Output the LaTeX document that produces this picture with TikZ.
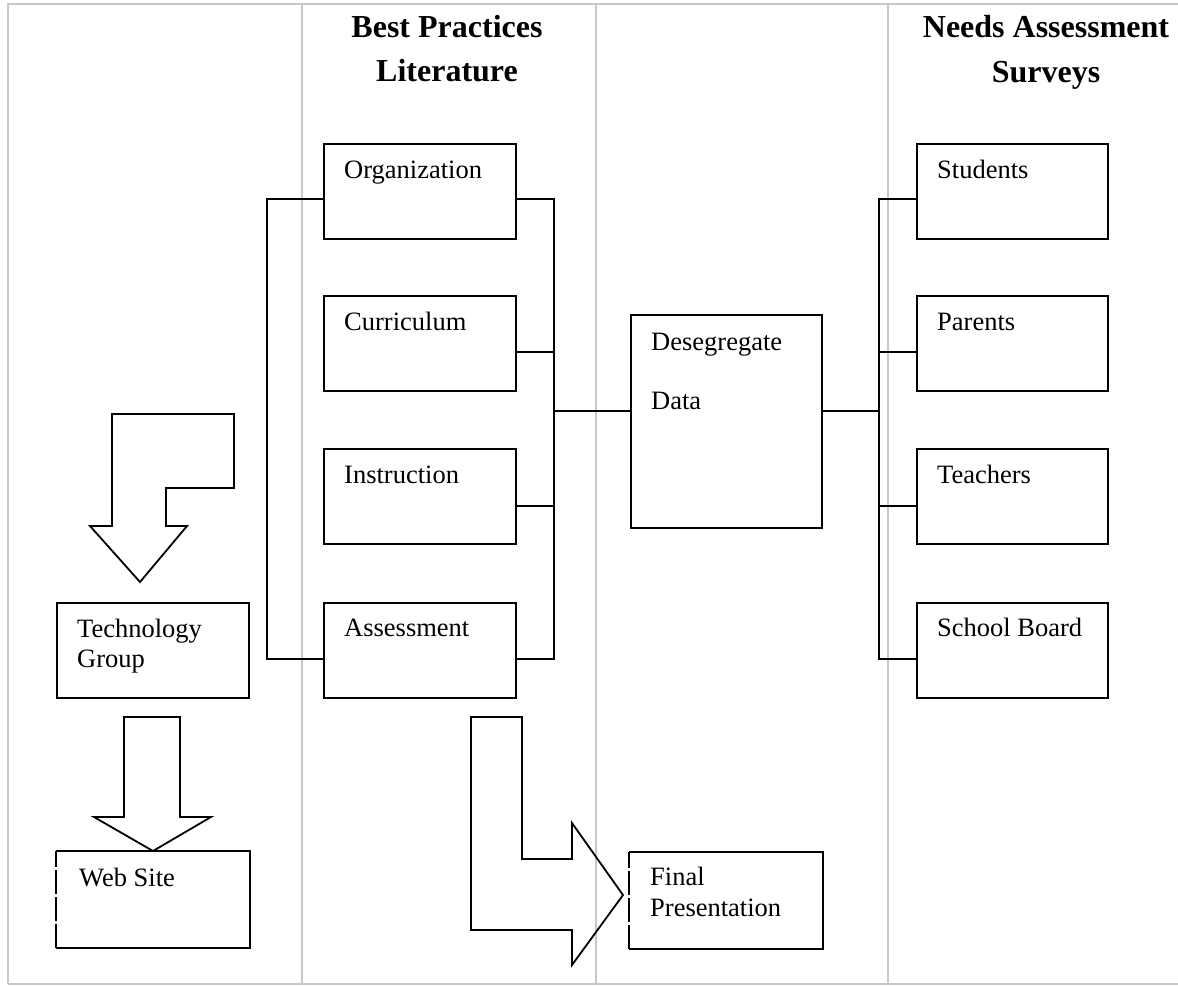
\documentclass[tikz,border=0pt]{standalone}
\usepackage{fontspec}
\setmainfont{Liberation Serif}
\usetikzlibrary{calc}
\definecolor{gridgray}{RGB}{200,200,200}
\begin{document}
\begin{tikzpicture}[x=1pt,y=-1pt,
  box/.style={draw=black,line width=1.8pt,inner sep=0pt,anchor=north west,minimum width=192pt,minimum height=95pt},
  txt/.style={anchor=base west,inner sep=0pt,font=\fontsize{26.5}{31}\selectfont},
  head/.style={anchor=base,inner sep=0pt,font=\fontsize{32}{38}\selectfont\bfseries},
  conn/.style={draw=black,line width=1.8pt},
  blockarrow/.style={draw=black,line width=1.8pt,line join=miter},
  grid/.style={draw=gridgray,line width=2pt}]
\useasboundingbox (0,0) rectangle (1178,986);
% table frame
\draw[grid] (8,984) -- (8,4) -- (1190,4);
\draw[grid] (8,984) -- (1190,984);
\draw[grid] (302,4) -- (302,984);
\draw[grid] (596,4) -- (596,984);
\draw[grid] (888,4) -- (888,984);
% headings
\node[head] (h1a) at (447,37) {Best Practices};
\node[head] (h1b) at (447,81) {Literature};
\node[head] (h2a) at (1046,37) {Needs Assessment};
\node[head] (h2b) at (1046,82) {Surveys};
% best practices boxes
\node[box] (org) at (323,143) {};
\node[box] (cur) at (323,295) {};
\node[box] (ins) at (323,448) {};
\node[box] (asm) at (323,602) {};
\node[txt] (orgt) at (344,178) {Organization};
\node[txt] (curt) at (344,330) {Curriculum};
\node[txt] (inst) at (344,483) {Instruction};
\node[txt] (asmt) at (344,636) {Assessment};
% survey boxes
\node[box,minimum width=191pt] (stu) at (916,143) {};
\node[box,minimum width=191pt] (par) at (916,295) {};
\node[box,minimum width=191pt] (tea) at (916,448) {};
\node[box,minimum width=191pt] (sbd) at (916,602) {};
\node[txt] (stut) at (937,178) {Students};
\node[txt] (part) at (937,330) {Parents};
\node[txt] (teat) at (937,483) {Teachers};
\node[txt] (sbdt) at (937,636) {School Board};
% desegregate
\node[box,minimum width=191pt,minimum height=213pt] (des) at (630,314) {};
\node[txt] (dest1) at (651,350) {Desegregate};
\node[txt] (dest2) at (651,409) {Data};
% technology group, web site, final presentation
\node[box] (tech) at (56,602) {};
\node[txt] (techt1) at (77,637) {Technology};
\node[txt] (techt2) at (77,667) {Group};
\node[box,draw=none] (web) at (56,851) {};
\draw[conn] (web.north west) -- (web.north east) -- (web.south east) -- (web.south west);
\draw[conn,dash pattern=on 24pt off 3pt] (web.south west) -- (web.north west);
\node[txt] (webt) at (79,886) {Web Site};
\node[box,draw=none,minimum width=192pt] (fin) at (629,852) {};
\draw[conn] (fin.north west) -- (fin.north east) -- (fin.south east) -- (fin.south west);
\draw[conn,dash pattern=on 24pt off 3pt] (fin.south west) -- (fin.north west);
\node[txt] (fint1) at (650,885) {Final};
\node[txt] (fint2) at (650,916) {Presentation};
% attachment points on box sides
\coordinate (orgL) at ($(org.north west)+(0,56)$);
\coordinate (asmL) at ($(asm.north west)+(0,57)$);
\coordinate (orgR) at ($(org.north east)+(0,56)$);
\coordinate (curR) at ($(cur.north east)+(0,57)$);
\coordinate (insR) at ($(ins.north east)+(0,58)$);
\coordinate (asmR) at ($(asm.north east)+(0,57)$);
\coordinate (desL) at ($(des.north west)+(0,97)$);
\coordinate (desR) at ($(des.north east)+(0,97)$);
\coordinate (stuL) at ($(stu.north west)+(0,56)$);
\coordinate (parL) at ($(par.north west)+(0,57)$);
\coordinate (teaL) at ($(tea.north west)+(0,58)$);
\coordinate (sbdL) at ($(sbd.north west)+(0,57)$);
% left bracket
\coordinate (lb1) at (267,199);
\coordinate (lb2) at (267,659);
\draw[conn] (orgL) -- (lb1) -- (lb2) -- (asmL);
% right bracket of best practices
\coordinate (rb1) at (554,199);
\coordinate (rb2) at (554,659);
\draw[conn] (orgR) -- (rb1) -- (rb2) -- (asmR);
\draw[conn] (curR) -- (curR -| rb1);
\draw[conn] (insR) -- (insR -| rb1);
\draw[conn] (desL) -- (desL -| rb1);
% survey bracket
\coordinate (sb1) at (879,199);
\coordinate (sb2) at (879,659);
\draw[conn] (stuL) -- (sb1) -- (sb2) -- (sbdL);
\draw[conn] (parL) -- (parL -| sb1);
\draw[conn] (teaL) -- (teaL -| sb1);
\draw[conn] (desR) -- (desR -| sb1);
% block arrows
\draw[blockarrow] (112,414) -- (234,414) -- (234,488) -- (166,488) -- (166,526) -- (187,526) -- (140,582) -- (90,526) -- (112,526) -- cycle;
\draw[blockarrow] (124,717) -- (180,717) -- (180,817) -- (211,817) -- (153,851) -- (94,817) -- (124,817) -- cycle;
\draw[blockarrow] (471,717) -- (522,717) -- (522,859) -- (572,859) -- (572,823) -- (623,895) -- (572,965) -- (572,930) -- (471,930) -- cycle;
\end{tikzpicture}
\end{document}
